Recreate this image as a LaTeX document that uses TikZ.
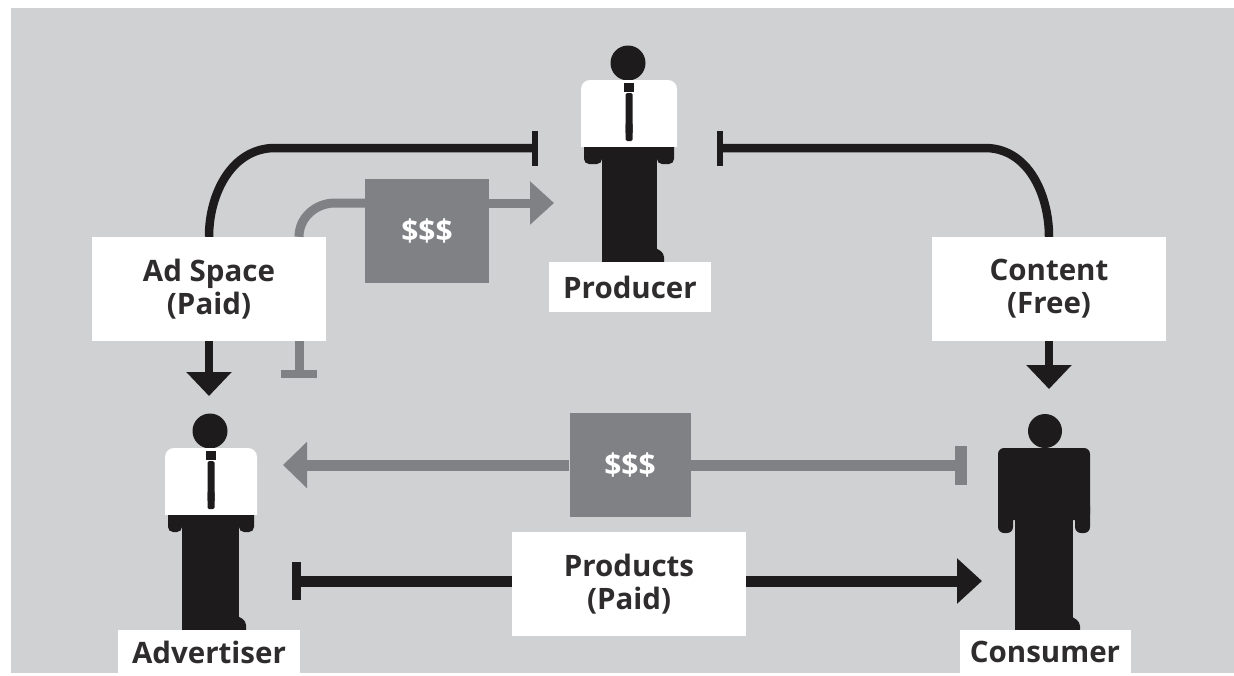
\documentclass[tikz,border=0pt]{standalone}
\usepackage{fontspec}
\setmainfont{Open Sans}
\usetikzlibrary{arrows.meta}
\definecolor{bgc}{HTML}{CFD1D2}
\definecolor{ink}{HTML}{1E1B1C}
\definecolor{gra}{HTML}{808184}
\definecolor{txt}{HTML}{2E2C2D}
\tikzset{
  lbl/.style={fill=white,inner sep=0pt,text=txt,font=\fontsize{29.5}{33}\selectfont\bfseries,align=center,anchor=center},
  money/.style={fill=gra,inner sep=0pt,text=white,font=\fontsize{30}{33}\selectfont\bfseries,align=center},
  blk/.style={draw=ink,line width=8.5pt},
  gry/.style={draw=gra,line width=9pt}
}
\newcommand{\personman}[6]{% cx, head cy, shirt half width, trouser left, trouser right, bottom
  \fill[ink] (#1-1,#2) circle (17.5);
  \fill[white,rounded corners=9pt] (#1-#3,#2+95) -- (#1-#3,#2+17) -- (#1+#3,#2+17) -- (#1+#3,#2+95) -- cycle;
  \fill[bgc] (#1-#3-1,#2+84) rectangle (#1+#3+1,#2+105);
  \fill[ink] (#1-5,#2+20) rectangle (#1+5,#2+29);
  \fill[ink,rounded corners=1.5pt] (#1-3.5,#2+30) rectangle (#1+3.5,#2+78);
  \fill[ink,rounded corners=5pt] (#1-#3+3,#2+78) rectangle (#4,#2+101);
  \fill[ink,rounded corners=5pt] (#5,#2+78) rectangle (#1+#3-3,#2+101);
  \fill[white] (#1-#3,#2+70) rectangle (#1+#3,#2+84);
  \fill[ink,rounded corners=1.5pt] (#1-3.5,#2+60) rectangle (#1+3.5,#2+78);
  \fill[ink] (#4-2,#2+84) rectangle (#5+2,#2+90);
  \fill[ink] (#4,#2+84) rectangle (#5,#6);
  \fill[ink,rounded corners=4pt] (#5-8,#6-19) -- (#5+7,#6-10) -- (#5+7,#6+4) -- (#5-8,#6+4) -- cycle;
}
\begin{document}
\begin{tikzpicture}[x=1pt,y=-1pt]
\useasboundingbox (0,0) rectangle (1234,675);
\fill[white] (0,0) rectangle (1234,675);
\fill[bgc] (11,8) rectangle (1234,673);
% people
\personman{629}{63}{48}{602}{657}{263}
\personman{211}{431}{46}{182}{239}{631}
% consumer
\fill[ink] (1045,431) circle (17);
\fill[ink,rounded corners=6pt] (998,520) -- (998,448) -- (1090,448) -- (1090,520) -- cycle;
\fill[ink,rounded corners=6pt] (998,500) rectangle (1013,533);
\fill[ink,rounded corners=6pt] (1075,500) rectangle (1090,533);
\fill[ink] (1015,500) rectangle (1073,631);
\fill[ink,rounded corners=4pt] (1065,612) -- (1080,622) -- (1080,635) -- (1065,635) -- cycle;
% boxes
\node[lbl,minimum width=234pt,minimum height=104pt] (ad) at (209,289) {Ad Space\\(Paid)};
\node[lbl,minimum width=234pt,minimum height=104pt] (content) at (1049,289) {Content\\(Free)};
\node[lbl,minimum width=234pt,minimum height=104pt] (products) at (629,584) {Products\\(Paid)};
\node[lbl,minimum width=162pt,minimum height=50pt] (producer) at (630,287) {Producer};
\node[lbl,minimum width=182pt,minimum height=44pt] (advertiser) at (209,652) {Advertiser};
\node[lbl,minimum width=171pt,minimum height=44pt] (consumer) at (1045,652) {Consumer};
\node[money,minimum width=124pt,minimum height=104pt] (m1) at (427,231) {\$\$\$};
\node[money,minimum width=121pt,minimum height=104pt] (m2) at (630,465) {\$\$\$};
% free ends
\coordinate (tl) at (538,148);
\coordinate (tr) at (717,148);
\coordinate (adin) at (209,396);
\coordinate (cin) at (1049,389);
\coordinate (gtip) at (554,203);
\coordinate (gstop) at (299,378);
\coordinate (ltip) at (283,465);
\coordinate (rstop) at (967,465);
\coordinate (pstart) at (292,581);
\coordinate (ptip) at (982,581);
% connectors
\draw[blk,{Rectangle[width=35pt,length=6pt]}-] (tl) -- (275,148) to[out=180,in=90] (ad.north);
\draw[blk,{Rectangle[width=35pt,length=6pt]}-] (tr) -- (985,148) to[out=0,in=90] (content.north);
\draw[blk,-{Triangle[length=24pt,width=44pt]}] (ad.south) -- (adin);
\draw[blk,-{Triangle[length=24pt,width=44pt]}] (content.south) -- (cin);
\draw[gry] (ad.north -| gstop) to[out=90,in=180] (335,203) -- (m1.west |- gtip);
\draw[gry,-{Triangle[length=24pt,width=42pt]}] (m1.east |- gtip) -- (gtip);
\draw[gry,-{Rectangle[width=36pt,length=8pt]}] (ad.south -| gstop) -- (gstop);
\draw[gry,line width=11pt,-{Triangle[length=24pt,width=45pt]}] (m2.west) -- (ltip);
\draw[gry,line width=11pt,-{Rectangle[width=39pt,length=12pt]}] (m2.east) -- (rstop);
\draw[blk,line width=11pt,{Rectangle[width=38pt,length=9pt]}-] (pstart) -- (products.west |- pstart);
\draw[blk,line width=11pt,-{Triangle[length=25pt,width=44pt]}] (products.east |- ptip) -- (ptip);
\end{tikzpicture}
\end{document}
